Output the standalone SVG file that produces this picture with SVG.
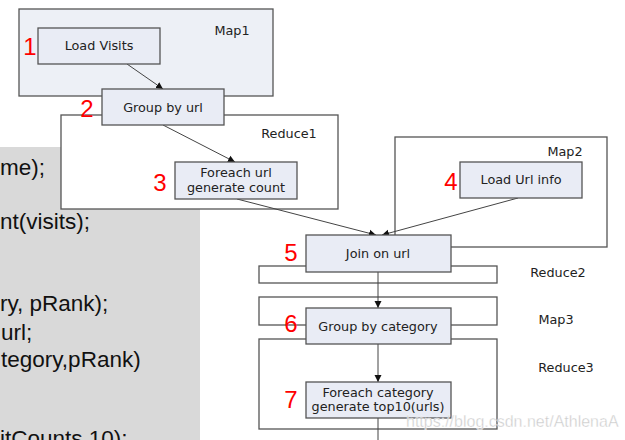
<svg xmlns="http://www.w3.org/2000/svg" width="625" height="440" viewBox="0 0 625 440">
<defs>
<marker id="ah" markerWidth="8" markerHeight="8" refX="7" refY="4" orient="auto" markerUnits="userSpaceOnUse">
<path d="M0,0.5 L7,4 L0,7.5 Z" fill="#111"/>
</marker>
<style>
.code{font-family:"Liberation Sans",Arial,sans-serif;font-size:22.5px;fill:#111}
.stage{fill:#fff;stroke:#555;stroke-width:1.3}
.node rect{fill:#e9ecf5;stroke:#555;stroke-width:1.3}
.lbl{font-family:"DejaVu Sans",Verdana,sans-serif;font-size:12.8px;fill:#222;text-anchor:middle}
.num{font-family:"Liberation Sans",Arial,sans-serif;font-size:24px;fill:#ff0000;text-anchor:middle}
.edge{stroke:#444;stroke-width:1;fill:none;marker-end:url(#ah)}
</style>
</defs>
<rect width="625" height="440" fill="#fff"/>
<!-- code panel -->
<rect x="0" y="147" width="200" height="293" fill="#d9d9d9"/>
<text class="code" x="0" y="175">me);</text>
<text class="code" x="0" y="229">nt(visits);</text>
<text class="code" x="0" y="311">ry, pRank);</text>
<text class="code" x="1" y="340">url;</text>
<text class="code" x="1" y="367">tegory,pRank)</text>
<text class="code" x="0" y="446">itCounts,10);</text>

<!-- stage containers -->
<g id="map1">
<rect x="19" y="9" width="254" height="87" fill="#edf0f6" stroke="#555" stroke-width="1.3"/>
<text class="lbl" x="232" y="35">Map1</text>
</g>
<g id="reduce1">
<rect class="stage" x="61" y="115" width="277" height="94"/>
<text class="lbl" x="289" y="138">Reduce1</text>
</g>
<g id="map2">
<rect class="stage" x="395" y="137" width="212" height="110"/>
<text class="lbl" x="565" y="156">Map2</text>
</g>
<g id="reduce2">
<rect class="stage" x="259" y="266" width="238" height="17"/>
<text class="lbl" x="558" y="277">Reduce2</text>
</g>
<g id="map3">
<rect class="stage" x="259" y="297" width="238" height="28"/>
<text class="lbl" x="556" y="324">Map3</text>
</g>
<g id="reduce3">
<rect class="stage" x="259" y="339" width="238" height="90"/>
<text class="lbl" x="566" y="372">Reduce3</text>
</g>

<!-- connectors -->
<g id="connectors">
<line class="edge" x1="127" y1="64" x2="163" y2="89"/>
<line class="edge" x1="163" y1="125" x2="235" y2="162"/>
<line class="edge" x1="237" y1="199" x2="376" y2="235"/>
<line class="edge" x1="518" y1="198" x2="382" y2="235"/>
<line class="edge" x1="378" y1="272" x2="378" y2="308"/>
<line class="edge" x1="378" y1="344" x2="378" y2="382"/>
<line x1="378" y1="418" x2="378" y2="440" stroke="#444" stroke-width="1"/>
</g>

<!-- nodes -->
<g id="n1" class="node">
<rect x="38" y="28" width="122" height="36"/>
<text class="lbl" x="99" y="50">Load Visits</text>
<text class="num" x="30" y="55">1</text>
</g>
<g id="n2" class="node">
<rect x="102" y="89" width="122" height="36"/>
<text class="lbl" x="163" y="112">Group by url</text>
<text class="num" x="87" y="117">2</text>
</g>
<g id="n3" class="node">
<rect x="175" y="162" width="122" height="37"/>
<text class="lbl" x="236" y="177">Foreach url</text>
<text class="lbl" x="236" y="192">generate count</text>
<text class="num" x="160" y="191">3</text>
</g>
<g id="n4" class="node">
<rect x="460" y="162" width="122" height="36"/>
<text class="lbl" x="521" y="184">Load Url info</text>
<text class="num" x="451" y="190">4</text>
</g>
<g id="n5" class="node">
<rect x="306" y="235" width="145" height="37"/>
<text class="lbl" x="378" y="258">Join on url</text>
<text class="num" x="291" y="261">5</text>
</g>
<g id="n6" class="node">
<rect x="306" y="308" width="145" height="36"/>
<text class="lbl" x="378" y="331">Group by category</text>
<text class="num" x="291" y="332">6</text>
</g>
<g id="n7" class="node">
<rect x="306" y="382" width="145" height="36"/>
<text class="lbl" x="378" y="397">Foreach category</text>
<text class="lbl" x="378" y="411">generate top10(urls)</text>
<text class="num" x="291" y="408">7</text>
</g>

<text x="406" y="427" font-family="Liberation Sans,Arial,sans-serif" font-size="16" fill="#c4c4c4" stroke="#fff" stroke-width="0.4" opacity="0.9">https://blog.csdn.net/AthlenaA</text>
</svg>
